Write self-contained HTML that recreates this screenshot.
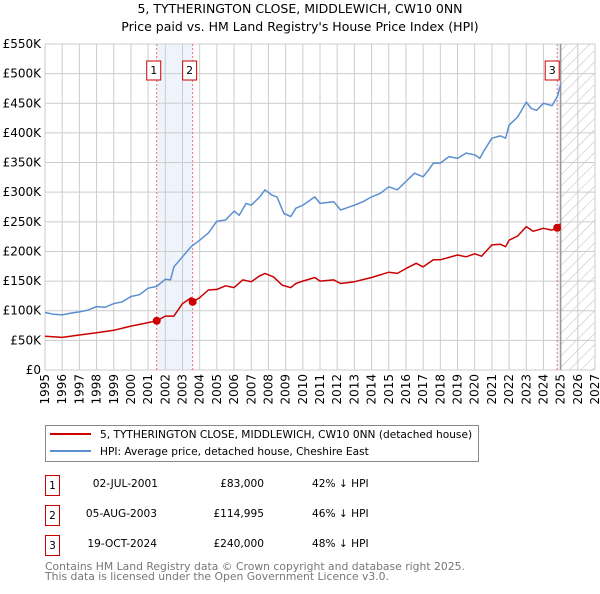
<!DOCTYPE html>
<html><head><meta charset="utf-8"><style>
body{margin:0;background:#fff;font-family:"DejaVu Sans","Liberation Sans",sans-serif;}
svg text{font-family:"DejaVu Sans","Liberation Sans",sans-serif;}
</style></head><body>
<svg id="chart" width="600" height="590" xmlns="http://www.w3.org/2000/svg">
<defs><pattern id="hatch" width="8" height="8" patternUnits="userSpaceOnUse" patternTransform="rotate(45)"><line x1="0" y1="0" x2="0" y2="8" stroke="#bbb" stroke-width="1"/></pattern></defs>
<text x="300" y="13" text-anchor="middle" font-size="12.5">5, TYTHERINGTON CLOSE, MIDDLEWICH, CW10 0NN</text>
<text x="300" y="31" text-anchor="middle" font-size="12.5">Price paid vs. HM Land Registry's House Price Index (HPI)</text>
<g id="plot"></g>
<g>
<rect x="45.5" y="425.5" width="433" height="36" fill="#fff" stroke="#888"/>
<line x1="50" y1="434" x2="91" y2="434" stroke="#cc0000" stroke-width="2"/>
<text x="100" y="438" font-size="10.6">5, TYTHERINGTON CLOSE, MIDDLEWICH, CW10 0NN (detached house)</text>
<line x1="50" y1="451" x2="91" y2="451" stroke="#5b8fd0" stroke-width="2"/>
<text x="100" y="455" font-size="10.6">HPI: Average price, detached house, Cheshire East</text>
</g>
<g font-size="10.6">
<rect x="45.5" y="475.5" width="14" height="20" fill="#fff" stroke="#cc0000"/><text x="52.5" y="489" text-anchor="middle">1</text>
<text x="158" y="487" text-anchor="end">02-JUL-2001</text><text x="264" y="487" text-anchor="end">£83,000</text><text x="312" y="487">42% ↓ HPI</text>
<rect x="45.5" y="505.5" width="14" height="20" fill="#fff" stroke="#cc0000"/><text x="52.5" y="519" text-anchor="middle">2</text>
<text x="157" y="517" text-anchor="end">05-AUG-2003</text><text x="264" y="517" text-anchor="end">£114,995</text><text x="312" y="517">46% ↓ HPI</text>
<rect x="45.5" y="535.5" width="14" height="20" fill="#fff" stroke="#cc0000"/><text x="52.5" y="549" text-anchor="middle">3</text>
<text x="157" y="547" text-anchor="end">19-OCT-2024</text><text x="264" y="547" text-anchor="end">£240,000</text><text x="312" y="547">48% ↓ HPI</text>
</g>
<text x="45" y="570" font-size="10.8" fill="#777">Contains HM Land Registry data © Crown copyright and database right 2025.</text>
<text x="45" y="580" font-size="10.8" fill="#777">This data is licensed under the Open Government Licence v3.0.</text>
</svg>
<script>
const hpiYears=[1995,1995.5,1996,1996.5,1997,1997.5,1998,1998.5,1999,1999.5,2000,2000.5,2001,2001.5,2002,2002.3,2002.5,2003,2003.5,2004,2004.5,2005,2005.5,2006,2006.3,2006.7,2007,2007.5,2007.8,2008.2,2008.5,2008.9,2009.3,2009.6,2010,2010.7,2011,2011.8,2012.2,2012.5,2013,2013.5,2014,2014.5,2015,2015.5,2016,2016.5,2017,2017.3,2017.6,2018,2018.5,2019,2019.5,2020,2020.3,2020.5,2021,2021.5,2021.8,2022,2022.5,2023,2023.3,2023.6,2024,2024.5,2024.8,2025];
const hpiValues=[97,94,93,96,98,101,107,106,112,115,124,127,138,141,153,152,174,191,208,219,231,251,253,268,261,281,278,292,304,295,292,264,259,273,278,292,281,284,270,273,278,284,292,298,309,304,318,332,326,337,349,349,360,357,366,363,357,368,391,395,391,413,427,452,441,438,450,446,461,481];
const paidYears=[1995,1996,1997,1998,1999,2000,2001,2001.5,2002,2002.5,2003,2003.5,2003.6,2004,2004.5,2005,2005.5,2006,2006.5,2007,2007.5,2007.8,2008.3,2008.8,2009.3,2009.6,2010,2010.7,2011,2011.8,2012.2,2013,2014,2015,2015.5,2016,2016.6,2017,2017.6,2018,2019,2019.5,2020,2020.4,2021,2021.5,2021.8,2022,2022.5,2023,2023.4,2024,2024.5,2024.8,2025];
const paidValues=[57,55,59,63,67,74,80,83,91,91,112,122,115,122,135,136,142,139,152,149,159,163,157,143,139,146,150,156,150,152,146,149,156,165,163,171,180,174,186,186,194,191,196,192,211,212,208,219,226,242,234,239,236,240,247];
const saleYears=[2001.5,2003.59,2024.8];
const saleValues=[83,114.995,240];
const saleLabels=["1","2","3"];
const yTicks=[0,50,100,150,200,250,300,350,400,450,500,550];
const xTickYears=[1995,1996,1997,1998,1999,2000,2001,2002,2003,2004,2005,2006,2007,2008,2009,2010,2011,2012,2013,2014,2015,2016,2017,2018,2019,2020,2021,2022,2023,2024,2025,2026,2027];
const X0=45,X1=595,Y0=370,Y1=44;
const xs=y=>X0+(y-1995)/(2027-1995)*(X1-X0);
const ys=v=>Y0-v/550*(Y0-Y1);
const NS="http://www.w3.org/2000/svg";
const plot=document.getElementById('plot');
function mk(tag,attrs,parent){const e=document.createElementNS(NS,tag);for(const k in attrs)e.setAttribute(k,attrs[k]);(parent||plot).appendChild(e);return e;}
let e=mk('rect',{x:xs(saleYears[0]),y:Y1,width:xs(saleYears[1])-xs(saleYears[0]),height:Y0-Y1,fill:'#eef3fc'});


e=mk('rect',{x:xs(saleYears[2]),y:Y1,width:xs(2025)-xs(saleYears[2]),height:Y0-Y1,fill:'#eef3fc'});


e=mk('rect',{x:xs(2025),y:Y1,width:X1-xs(2025),height:Y0-Y1,fill:'url(#hatch)'});


yTicks.forEach(v=>{
  const l=mk('line',{x1:X0,x2:X1,y1:ys(v),y2:ys(v),stroke:'#ccc','stroke-width':1});
  
  
  const t=mk('text',{x:X0-4,y:ys(v)+4,'text-anchor':'end','font-size':12});
  t.textContent=v===0?'£0':'£'+v+'K';
  
  
});
xTickYears.forEach(y=>{
  const l=mk('line',{x1:xs(y),x2:xs(y),y1:Y1,y2:Y0,stroke:'#ccc','stroke-width':1});
  
  
  const t=mk('text',{x:0,y:0,'text-anchor':'end','font-size':12,transform:`translate(${xs(y)+4},${Y0+4}) rotate(-90)`});
  t.textContent=y;
  
  
});
e=mk('line',{x1:xs(2025),x2:xs(2025),y1:Y1,y2:Y0,stroke:'#999','stroke-width':1.5});


saleYears.forEach(y=>{
  const l=mk('line',{x1:xs(y),x2:xs(y),y1:Y1,y2:Y0,stroke:'#f07070','stroke-width':1,'stroke-dasharray':'2,2'});
  
  
});
function line(xa,va,color,name){
  const d=xa.map((y,i)=>(i?'L':'M')+xs(y).toFixed(1)+','+ys(va[i]).toFixed(1)).join('');
  const p=mk('path',{d:d,fill:'none',stroke:color,'stroke-width':1.5,'stroke-linejoin':'round'});
  
  
}
line(hpiYears,hpiValues,'#5b8fd0','hpi-line');
line(paidYears,paidValues,'#cc0000','price-paid-line');
saleYears.forEach((y,i)=>{
  const c=mk('circle',{cx:xs(y),cy:ys(saleValues[i]),r:4,fill:'#cc0000'});
  
  
  const bx=xs(y)-(i==2?5:3);
  const r=mk('rect',{x:bx-7,y:61,width:14,height:19,fill:'#fff',stroke:'#cc0000'});
  
  
  const t=mk('text',{x:bx,y:74,'text-anchor':'middle','font-size':11});
  t.textContent=saleLabels[i];
  
  
});
</script>
</body></html>
